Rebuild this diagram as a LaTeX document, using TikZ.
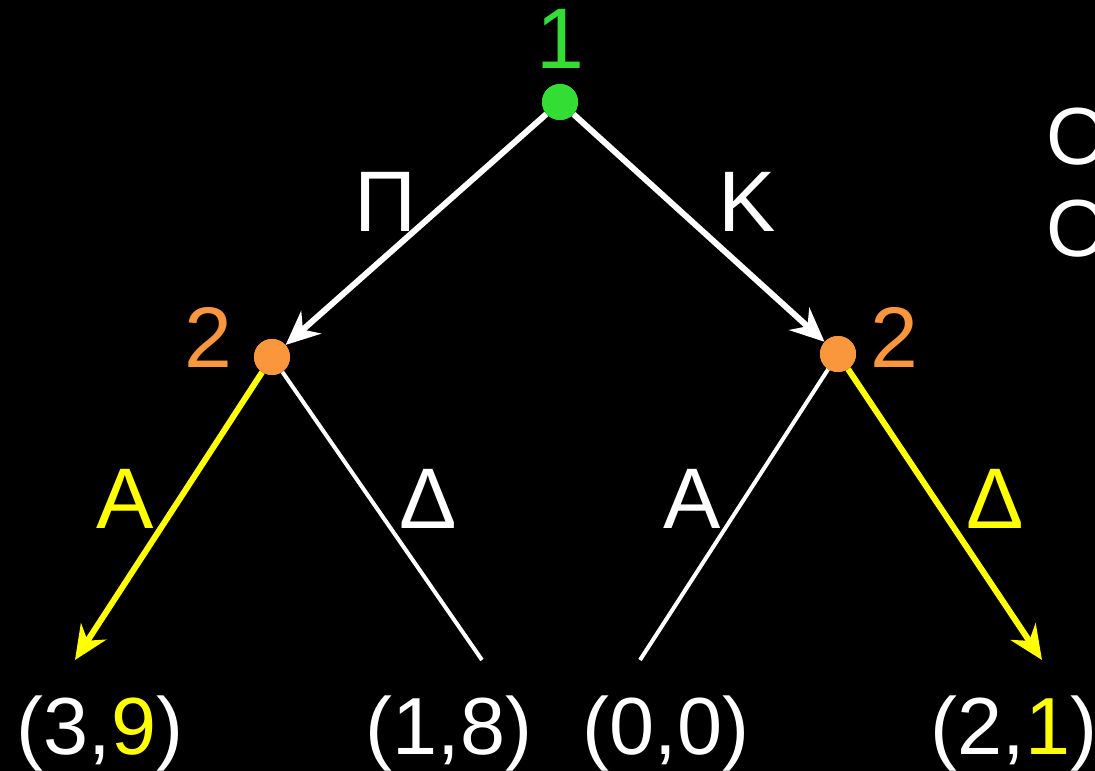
\documentclass[tikz,border=0pt]{standalone}
\usepackage{fontspec}
\setmainfont{Liberation Sans}
\usetikzlibrary{arrows.meta}
\definecolor{gr}{HTML}{33DD33}
\definecolor{orng}{HTML}{FA963C}
\definecolor{yel}{HTML}{FFFF00}
\begin{document}
\begin{tikzpicture}[x=1pt,y=-1pt,
  lbl/.style={inner sep=0pt, anchor=base},
  fbig/.style={font=\fontsize{86}{100}\selectfont},
  fleaf/.style={font=\fontsize{81}{96}\selectfont},
  dot/.style={circle, minimum size=36pt, inner sep=0pt},
  thickarr/.style={line width=6pt, -{Stealth[length=34pt,width=30pt,inset=11pt]}},
  thinline/.style={line width=4pt, white}]
\fill[black] (0,0) rectangle (1095,771);
\useasboundingbox (0,0) rectangle (1095,771);
% nodes
\node[dot, fill=gr] (r) at (560,102) {};
\node[dot, fill=orng] (l) at (272,357) {};
\node[dot, fill=orng] (rr) at (838,354) {};
\coordinate (l1) at (75,660);
\coordinate (l2) at (482,660);
\coordinate (r1) at (640,660);
\coordinate (r2) at (1042,660);
% edges
\draw[thickarr, white] (r) -- (l);
\draw[thickarr, white] (r) -- (rr);
\draw[thickarr, yel] (l) -- (l1);
\draw[thinline] (l) -- (l2);
\draw[thinline] (rr) -- (r1);
\draw[thickarr, yel] (rr) -- (r2);
% redraw dots on top
\node[dot, fill=gr] at (r) {};
\node[dot, fill=orng] at (l) {};
\node[dot, fill=orng] at (rr) {};
% labels
\node[lbl, fbig, text=gr] (t1) at (560,68) {1};
\node[lbl, fbig, text=orng] (t2) at (208,367) {2};
\node[lbl, fbig, text=orng] (t3) at (894,367) {2};
\node[lbl, fbig, text=white] (e1) at (386,231) {Π};
\node[lbl, fbig, text=white] (e2) at (747,231) {Κ};
\node[lbl, fbig, text=yel] (e3) at (125,528) {Α};
\node[lbl, fbig, text=white] (e4) at (428,528) {Δ};
\node[lbl, fbig, text=white] (e5) at (692,528) {Α};
\node[lbl, fbig, text=yel] (e6) at (995,528) {Δ};
\node[lbl, fleaf, text=white] (p1) at (100,754) {(3,\textcolor{yel}{9})};
\node[lbl, fleaf, text=white] (p2) at (449,754) {(1,8)};
\node[lbl, fleaf, text=white] (p3) at (666,754) {(0,0)};
\node[lbl, fleaf, text=white] (p4) at (1014,754) {(2,\textcolor{yel}{1})};
\node[lbl, fleaf, text=white, anchor=base west] (o1) at (1046,164) {O};
\node[lbl, fleaf, text=white, anchor=base west] (o2) at (1046,256) {O};
\end{tikzpicture}
\end{document}
